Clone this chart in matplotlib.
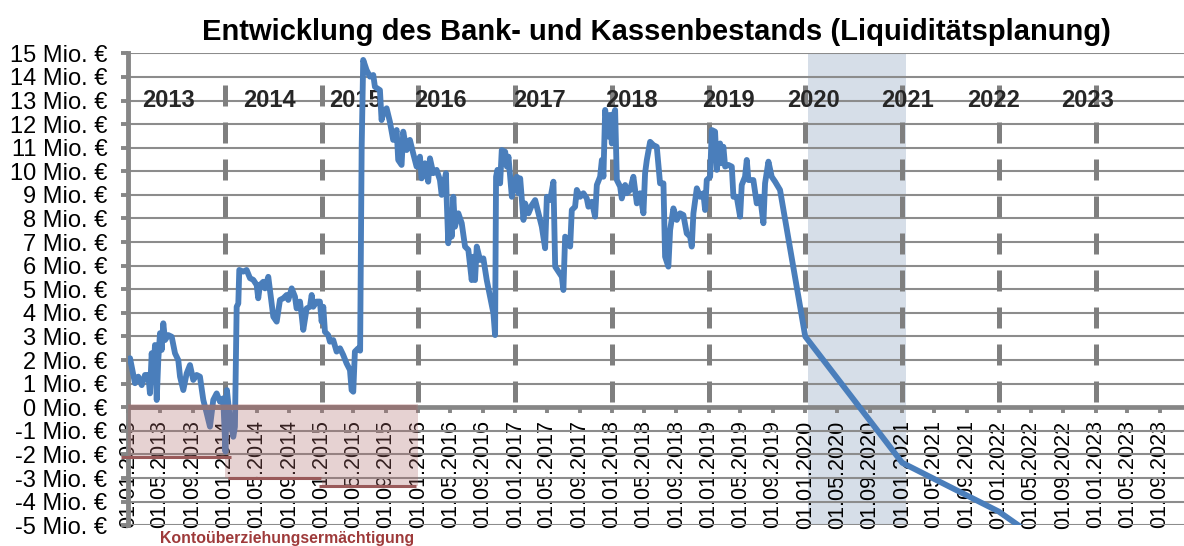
import datetime as dt
import numpy as np
import matplotlib
matplotlib.use("Agg")
import matplotlib.pyplot as plt
import matplotlib.dates as mdates
from matplotlib.ticker import FixedLocator, FuncFormatter

plt.rcParams['font.family'] = ['Liberation Sans', 'DejaVu Sans']

# Bank- und Kassenbestand (Ist), Zeit als Dezimaljahr, Werte in Mio. EUR
ist_jahr_a = [
    2013.018, 2013.069, 2013.103, 2013.139, 2013.173, 2013.207, 2013.224, 2013.242, 2013.259, 2013.276,
    2013.294, 2013.310, 2013.328, 2013.345, 2013.362, 2013.380, 2013.414, 2013.449, 2013.483, 2013.517,
    2013.535, 2013.569, 2013.604, 2013.638, 2013.672, 2013.707, 2013.741, 2013.776, 2013.811, 2013.845,
    2013.879, 2013.914, 2013.948, 2013.982, 2014.005, 2014.020, 2014.052, 2014.086, 2014.103, 2014.121,
    2014.138, 2014.148, 2014.189, 2014.224, 2014.259, 2014.293, 2014.328, 2014.344, 2014.362, 2014.396,
    2014.414, 2014.448, 2014.465, 2014.500, 2014.535, 2014.569, 2014.603, 2014.638, 2014.655, 2014.690,
    2014.724, 2014.741, 2014.776, 2014.793, 2014.810, 2014.845, 2014.879, 2014.897, 2014.913, 2014.948,
    2014.982, 2015.000, 2015.017, 2015.034, 2015.068, 2015.086, 2015.120, 2015.155, 2015.190, 2015.223,
    2015.258, 2015.293, 2015.310, 2015.327, 2015.344, 2015.378, 2015.398, 2015.414, 2015.430]
ist_wert_a = [
    2.08, 1.02, 1.30, 0.94, 1.37, 1.37, 0.59, 2.29, 1.30, 2.64,
    0.31, 2.00, 3.14, 2.43, 3.56, 2.85, 3.06, 2.99, 2.29, 2.00,
    1.30, 0.73, 1.44, 1.79, 1.16, 1.37, 1.30, 0.31, -0.25, -0.82,
    0.31, 0.59, 0.24, 0.38, -1.88, 0.73, -0.54, -1.25, -0.82, 4.26,
    4.40, 5.82, 5.75, 5.82, 5.47, 5.40, 5.18, 4.62, 5.18, 5.32,
    5.04, 5.53, 4.97, 3.84, 3.63, 4.55, 4.62, 4.76, 4.55, 5.04,
    4.69, 4.19, 4.48, 3.91, 3.28, 4.19, 4.26, 4.76, 4.26, 4.48,
    4.48, 3.63, 4.26, 3.20, 3.06, 2.78, 2.85, 2.36, 2.50, 2.22,
    1.86, 1.58, 0.73, 0.66, 2.36, 2.50, 2.40, 11.00, 14.72]

ist_jahr_b = [
    2015.465, 2015.500, 2015.534, 2015.551, 2015.603, 2015.620, 2015.637, 2015.672, 2015.706, 2015.740,
    2015.776, 2015.792, 2015.827, 2015.844, 2015.879, 2015.913, 2015.947, 2015.982, 2016.017, 2016.034,
    2016.068, 2016.102, 2016.120, 2016.154, 2016.189, 2016.223, 2016.241, 2016.285, 2016.293, 2016.309,
    2016.327, 2016.344, 2016.361, 2016.378, 2016.413, 2016.448, 2016.482, 2016.516, 2016.551, 2016.568,
    2016.585, 2016.603, 2016.637, 2016.671, 2016.706, 2016.740, 2016.775, 2016.792, 2016.802, 2016.816,
    2016.844, 2016.861, 2016.896, 2016.913, 2016.930, 2016.965, 2016.982, 2017.017, 2017.033, 2017.051,
    2017.085, 2017.102, 2017.137, 2017.172, 2017.206, 2017.240, 2017.275, 2017.309, 2017.327, 2017.361,
    2017.395, 2017.413]
ist_wert_b = [
    14.29, 14.01, 14.08, 13.58, 13.44, 12.17, 12.46, 12.67, 12.10, 11.33,
    11.75, 10.48, 10.27, 11.68, 10.90, 11.33, 10.76, 10.20, 10.62, 9.70,
    10.34, 9.56, 10.55, 9.92, 10.06, 9.63, 9.00, 9.92, 8.78, 6.95,
    8.15, 7.23, 8.92, 7.65, 8.22, 7.80, 6.81, 6.67, 5.39, 6.38,
    5.39, 6.81, 6.24, 6.31, 5.39, 4.69, 3.98, 3.06, 9.77, 10.06,
    9.49, 10.90, 10.83, 10.20, 10.62, 8.92, 9.49, 9.77, 9.07, 9.70,
    7.94, 8.64, 8.22, 8.57, 8.78, 8.22, 7.65, 6.74, 8.92, 8.78,
    9.56, 5.96]

ist_jahr_c = [
    2017.447, 2017.482, 2017.498, 2017.516, 2017.550, 2017.568, 2017.585, 2017.619, 2017.637, 2017.671,
    2017.705, 2017.740, 2017.757, 2017.792, 2017.826, 2017.844, 2017.878, 2017.896, 2017.912, 2017.930,
    2017.964, 2017.981, 2017.999, 2018.015, 2018.033, 2018.051, 2018.085, 2018.102, 2018.137, 2018.154,
    2018.188, 2018.222, 2018.258, 2018.292, 2018.326, 2018.343, 2018.361, 2018.395, 2018.429, 2018.464,
    2018.498, 2018.533, 2018.550, 2018.584, 2018.602, 2018.636, 2018.671, 2018.705, 2018.739, 2018.774,
    2018.809, 2018.826, 2018.843, 2018.878, 2018.912, 2018.946, 2018.964, 2018.981, 2019.016, 2019.033,
    2019.067, 2019.085, 2019.119, 2019.136, 2019.153, 2019.171, 2019.205, 2019.240, 2019.257, 2019.291,
    2019.326, 2019.343, 2019.377, 2019.395, 2019.412, 2019.463, 2019.498, 2019.533, 2019.567, 2019.584,
    2019.619, 2019.653, 2019.688, 2019.739]
ist_wert_c = [
    5.75, 5.53, 4.97, 7.23, 7.09, 6.81, 8.36, 8.50, 9.21, 8.92,
    9.07, 8.85, 8.50, 8.71, 8.08, 9.42, 9.77, 10.48, 9.77, 12.60,
    11.47, 12.39, 11.18, 12.32, 12.60, 9.63, 9.35, 8.85, 9.42, 9.07,
    9.21, 9.77, 8.64, 9.07, 8.22, 9.92, 10.48, 11.25, 11.11, 11.04,
    9.49, 9.49, 6.38, 5.96, 7.51, 8.43, 7.94, 8.22, 8.15, 7.37,
    7.23, 6.81, 8.22, 9.28, 8.92, 9.07, 8.36, 9.63, 9.77, 11.75,
    11.68, 10.06, 11.18, 10.34, 11.04, 10.20, 10.27, 10.20, 8.92, 8.92,
    8.08, 9.42, 9.77, 10.48, 9.63, 9.63, 8.64, 8.92, 7.80, 9.49,
    10.41, 9.77, 9.56, 9.21]

# Planung ab 2020
plan_jahr = [2020.0, 2021.0, 2022.0, 2023.0]
plan_wert = [3.00, -2.35, -4.42, -7.30]

# Kontoueberziehungsermaechtigung je Jahr
limit_jahre = [2013, 2014, 2015]
limit_werte = [-2.1, -3.0, -3.35]

jahre = ['2013', '2014', '2015', '2016', '2017', '2018', '2019', '2020', '2021', '2022', '2023']
planjahr = 2020

title = "Entwicklung des Bank- und Kassenbestands (Liquiditätsplanung)"


def to_date(t):
    y = int(np.floor(t))
    start = dt.datetime(y, 1, 1)
    ndays = (dt.datetime(y + 1, 1, 1) - start).days
    return start + dt.timedelta(days=(t - y) * ndays)


blue = '#4A7EBB'
grid_gray = '#8C8C8C'
axis_gray = '#868686'

W, H = 1184, 546
fig = plt.figure(figsize=(W / 100, H / 100), dpi=100)
left, bottom, top = 128.3, 525.3, 53.3
ax = fig.add_axes([left / W, 1 - bottom / H, 1 - left / W, (bottom - top) / H])

ax.set_xlim(to_date(2013.0), dt.datetime(2023, 12, 1))
ax.set_ylim(-5, 15)

# Planjahr hinterlegt
ax.axvspan(to_date(planjahr + 0.03), to_date(planjahr + 1.035), color='#D6DEE8', lw=0, zorder=0)

# Gitter
ax.yaxis.set_major_locator(FixedLocator(range(-5, 16)))
ax.yaxis.grid(True, color=grid_gray, lw=1.5)
ax.set_axisbelow(True)

# Jahrestrenner
for j in jahre[1:]:
    d = to_date(int(j))
    ax.plot([d, d], [13.65, 0], color='#7F7F7F', lw=3.6, dashes=(4.2, 3.2),
            dash_capstyle='butt', zorder=2)

# Jahreszahlen
label_x = [2013.42, 2014.46, 2015.35, 2016.23, 2017.25, 2018.20, 2019.21,
           2020.09, 2021.05, 2021.95, 2022.92]
for lx, j in zip(label_x, jahre):
    ax.text(to_date(lx), 13.0, j, ha='center', va='center', fontsize=17,
            fontweight='bold', color='#262626', zorder=2.2)

# Bestand
ist_t = ist_jahr_a + ist_jahr_b + ist_jahr_c
ist_v = ist_wert_a + ist_wert_b + ist_wert_c
xs = [to_date(t) for t in ist_t + plan_jahr]
ys = ist_v + plan_wert
ax.plot(xs, ys, color=blue, lw=4.2, solid_joinstyle='round', solid_capstyle='round', zorder=3)

# Kontoueberziehungsrahmen
for i, (jahr, wert) in enumerate(zip(limit_jahre, limit_werte)):
    ax.fill_between([to_date(jahr), to_date(jahr + 1)], [wert, wert], [0.15, 0.15],
                    color='#AF6C6C', alpha=0.3, lw=0, zorder=4)
    x0 = jahr - 0.08 if i == 0 else jahr + 0.03 if i == 1 else jahr - 0.03
    x1 = jahr + 1.06 if i == 0 else jahr + 0.99 if i == 1 else jahr + 0.98
    ax.plot([to_date(x0), to_date(x1)], [wert, wert], color='#9A5A5A', lw=2.2,
            solid_capstyle='butt', zorder=4.5, clip_on=False)
ax.plot([to_date(limit_jahre[0]), to_date(limit_jahre[-1] + 0.98)], [0, 0], color='#957575',
        lw=3.6, solid_capstyle='butt', zorder=4.5, alpha=0.8)

# Achsen
for s in ['top', 'right']:
    ax.spines[s].set_visible(False)
ax.spines['bottom'].set_position(('data', 0))
ax.spines['bottom'].set_color(axis_gray)
ax.spines['bottom'].set_linewidth(3.4)
ax.spines['left'].set_color(axis_gray)
ax.spines['left'].set_linewidth(3.5)

ax.xaxis.set_major_locator(mdates.MonthLocator(bymonth=[1, 5, 9]))
ax.xaxis.set_major_formatter(mdates.DateFormatter('%d.%m.%Y'))
ax.yaxis.set_major_formatter(FuncFormatter(lambda v, p: f"{int(v)} Mio. €"))
ax.tick_params(axis='x', length=4.5, width=2.8, color=axis_gray, labelsize=15.5,
               labelrotation=90, pad=5)
ax.tick_params(axis='y', length=5, width=2.8, color=axis_gray, labelsize=17, pad=10)
for lab in ax.get_xticklabels():
    lab.set_va('top')

fig.text(656 / W, 1 - 39.5 / H, title, ha='center', va='baseline', fontsize=21,
         fontweight='bold', color='black')
fig.text(287.5 / W, 1 - 538 / H, "Kontoüberziehungsermächtigung", ha='center', va='center',
         fontsize=11.4, fontweight='bold', color='#9E3A3A')

fig.savefig('out.png', dpi=100)
